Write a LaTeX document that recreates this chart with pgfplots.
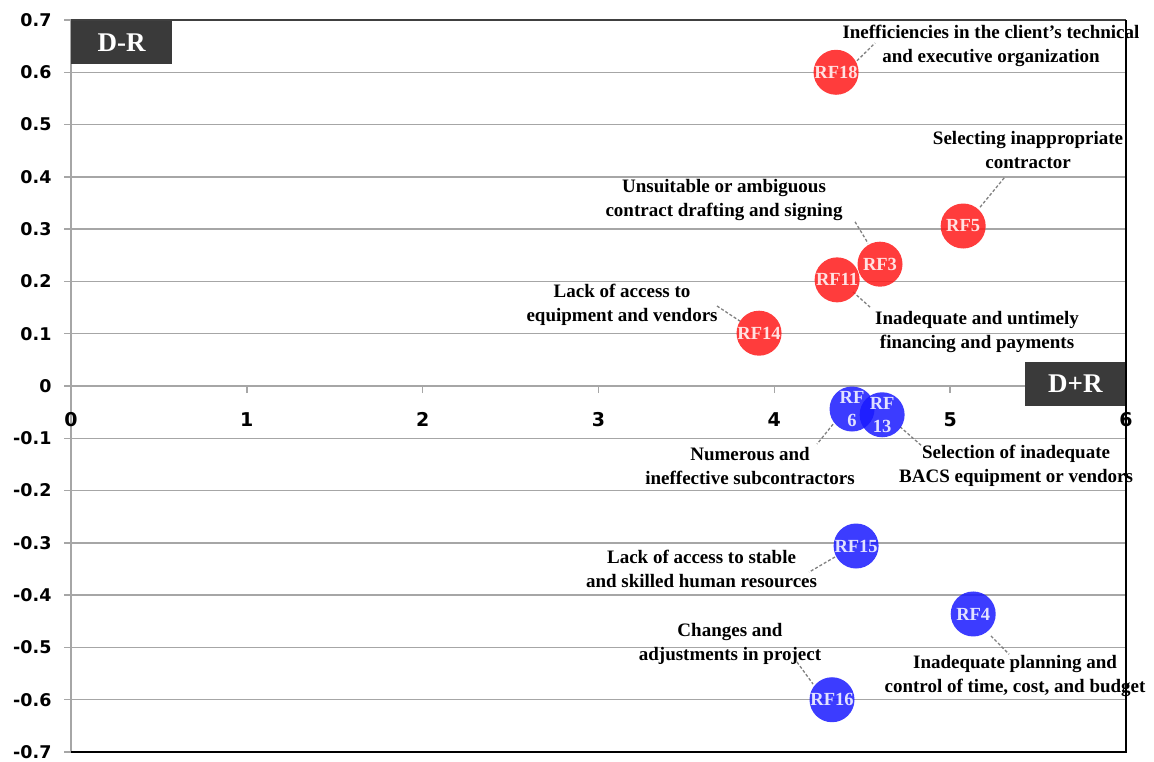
\documentclass[border=0pt]{standalone}
\usepackage{pgfplots}
\pgfplotsset{compat=1.18}
\usepackage{fontspec}
\setmainfont{Liberation Serif}
\newfontfamily\tickfont{DejaVu Sans}
\definecolor{redc}{HTML}{FF1A1A}
\definecolor{bluec}{HTML}{1A1AFF}
\definecolor{gridc}{HTML}{A6A6A6}
\definecolor{boxc}{HTML}{3A3A3A}
\definecolor{leadc}{HTML}{808080}
\tikzset{
  lab/.style={font=\bfseries\fontsize{19}{24}\selectfont, align=center, inner sep=0pt},
  lead/.style={draw=leadc, line width=1.3pt, dash pattern=on 3pt off 2pt},
}
\begin{document}
\begin{tikzpicture}
\begin{axis}[
  scale only axis, width=1055pt, height=732pt,
  xmin=0, xmax=6, ymin=-0.7, ymax=0.7,
  axis x line*=middle, axis y line*=left,
  x axis line style={-, draw=gridc, line width=1.5pt},
  y axis line style={-, draw=gridc, line width=1.5pt},
  xtick={0,1,2,3,4,5,6},
  xticklabels={0,1,2,3,4,5,6},
  ytick={-0.7,-0.6,-0.5,-0.4,-0.3,-0.2,-0.1,0,0.1,0.2,0.3,0.4,0.5,0.6,0.7},
  yticklabels={-0.7,-0.6,-0.5,-0.4,-0.3,-0.2,-0.1,0,0.1,0.2,0.3,0.4,0.5,0.6,0.7},
  ymajorgrids, grid style={draw=gridc, line width=1.5pt},
  tick align=outside, major tick length=7pt,
  tick style={draw=gridc, line width=1.5pt},
  hide obscured x ticks=false, hide obscured y ticks=false,
  yticklabel style={font=\tickfont\bfseries\fontsize{17.5}{20}\selectfont, xshift=-9pt},
  xticklabel style={font=\tickfont\bfseries\fontsize{19}{22}\selectfont, yshift=-16pt},
  clip=false,
]
% red group (D-R > 0)
\addplot[only marks, draw=none, mark=*, mark size=22.5pt,
  mark options={fill=redc, draw=none, draw opacity=0, fill opacity=0.85},
  point meta=explicit symbolic, nodes near coords,
  nodes near coords align={center},
  every node near coord/.append style={anchor=center, text=white, align=center,
    font=\bfseries\fontsize{18.5}{21}\selectfont, inner sep=0pt}]
coordinates {
 (4.351,0.600) [RF18]
 (5.074,0.306) [RF5]
 (4.601,0.233) [RF3]
 (4.357,0.203) [RF11]
 (3.913,0.101) [RF14]
};
% blue group (D-R < 0)
\addplot[only marks, draw=none, mark=*, mark size=22.5pt,
  mark options={fill=bluec, draw=none, draw opacity=0, fill opacity=0.85},
  point meta=explicit symbolic, nodes near coords,
  nodes near coords align={center},
  every node near coord/.append style={anchor=center, text=white, align=center,
    font=\bfseries\fontsize{18.5}{23}\selectfont, inner sep=0pt}]
coordinates {
 (4.442,-0.044) [RF\\6]
 (4.613,-0.055) [RF\\13]
 (4.465,-0.306) [RF15]
 (5.131,-0.436) [RF4]
 (4.328,-0.600) [RF16]
};
% leader lines
\draw[lead] (axis cs:4.470,0.622) -- (axis cs:4.573,0.656);
\draw[lead] (axis cs:5.170,0.342) -- (axis cs:5.312,0.400);
\draw[lead] (axis cs:4.459,0.314) -- (axis cs:4.533,0.273);
\draw[lead] (axis cs:3.674,0.153) -- (axis cs:3.805,0.124);
\draw[lead] (axis cs:4.447,0.180) -- (axis cs:4.544,0.151);
\draw[lead] (axis cs:4.334,-0.073) -- (axis cs:4.243,-0.111);
\draw[lead] (axis cs:4.715,-0.078) -- (axis cs:4.840,-0.115);
\draw[lead] (axis cs:4.345,-0.327) -- (axis cs:4.197,-0.356);
\draw[lead] (axis cs:4.129,-0.528) -- (axis cs:4.220,-0.570);
\draw[lead] (axis cs:5.232,-0.478) -- (axis cs:5.335,-0.513);
% labels
\node[lab] at (axis cs:5.232,0.650) {Inefficiencies in the client’s technical\\and executive organization};
\node[lab] at (axis cs:5.443,0.451) {Selecting inappropriate\\contractor};
\node[lab] at (axis cs:3.714,0.356) {Unsuitable or ambiguous\\contract drafting and signing};
\node[lab] at (axis cs:3.134,0.155) {Lack of access to\\equipment and vendors};
\node[lab] at (axis cs:5.153,0.103) {Inadequate and untimely\\financing and payments};
\node[lab] at (axis cs:3.862,-0.153) {Numerous and\\ineffective subcontractors};
\node[lab] at (axis cs:5.375,-0.153) {Selection of inadequate\\BACS equipment or vendors};
\node[lab] at (axis cs:3.586,-0.350) {Lack of access to stable\\and skilled human resources};
\node[lab] at (axis cs:3.748,-0.493) {Changes and\\adjustments in project};
\node[lab] at (axis cs:5.369,-0.555) {Inadequate planning and\\control of time, cost, and budget};
% quadrant boxes
\node[fill=boxc, text=white, minimum width=101pt, minimum height=44pt, inner sep=0pt,
  anchor=north west, font=\bfseries\fontsize{27}{30}\selectfont] at (axis cs:0,0.7) {D-R};
\node[fill=boxc, text=white, minimum width=101pt, minimum height=44pt, inner sep=0pt,
  anchor=east, font=\bfseries\fontsize{27}{30}\selectfont] at ([yshift=2pt]axis cs:6,0) {D+R};
% frame
\draw[draw=black!75, line width=1.2pt] (axis cs:0,0.7) -- (axis cs:6,0.7);
\draw[draw=black, line width=2pt] (axis cs:0,-0.7) -- (axis cs:6,-0.7) -- (axis cs:6,0.7);
\end{axis}
\pgfresetboundingbox
\path ([xshift=-71pt,yshift=-9pt]current axis.south west) rectangle ([xshift=28pt,yshift=20pt]current axis.north east);
\end{tikzpicture}
\end{document}
